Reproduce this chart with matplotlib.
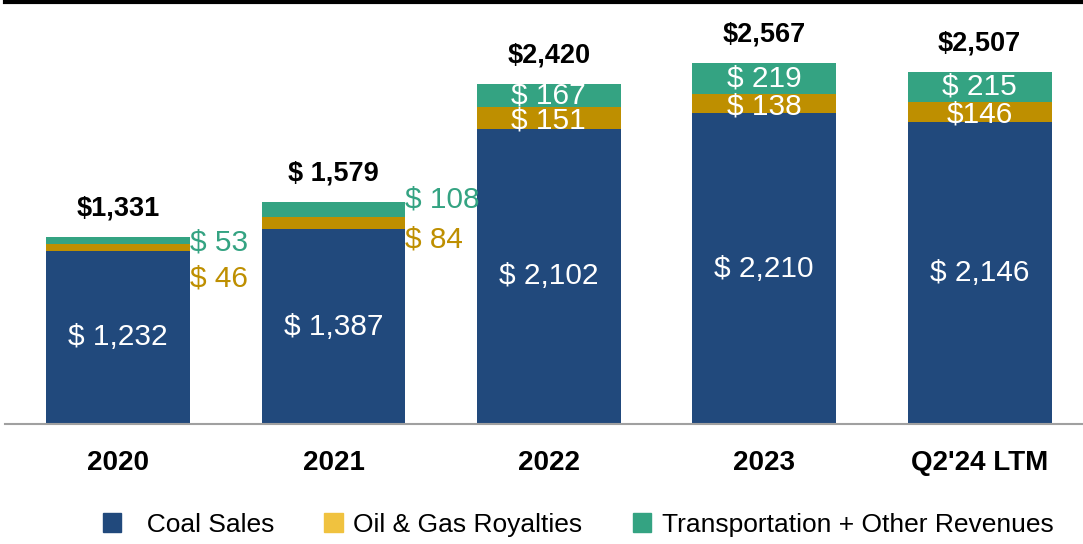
import matplotlib.pyplot as plt
from matplotlib.patches import Patch

plt.rcParams['font.family'] = ['Liberation Sans', 'DejaVu Sans']

# data (USD millions)
periods = ['2020', '2021', '2022', '2023', "Q2'24 LTM"]
coal_sales = [1232, 1387, 2102, 2210, 2146]
oil_gas = [46, 84, 151, 138, 146]
transport_other = [53, 108, 167, 219, 215]

coal_labels = ['$ 1,232', '$ 1,387', '$ 2,102', '$ 2,210', '$ 2,146']
oil_labels = ['$ 46', '$ 84', '$ 151', '$ 138', '$146']
other_labels = ['$ 53', '$ 108', '$ 167', '$ 219', '$ 215']
total_labels = ['$1,331', '$ 1,579', '$2,420', '$2,567', '$2,507']

c_coal = '#21497C'
c_oil = '#BE8F00'
c_other = '#34A382'
c_oil_legend = '#F0C23F'

fig = plt.figure(figsize=(10.83, 5.44), dpi=100)
ax = fig.add_axes([5 / 1083, 120 / 544, 1078 / 1083, 422 / 544])

x = list(range(len(periods)))
w = 0.668
bottom2 = [a + b for a, b in zip(coal_sales, oil_gas)]
totals = [a + b for a, b in zip(bottom2, transport_other)]

ax.bar(x, coal_sales, w, color=c_coal)
ax.bar(x, oil_gas, w, bottom=coal_sales, color=c_oil)
ax.bar(x, transport_other, w, bottom=bottom2, color=c_other)

ax.set_xlim(-0.525, 4.48)
ax.set_ylim(0, 3003)

lbl = 21.5
# labels inside bars
for i in x:
    ax.text(i, coal_sales[i] / 2, coal_labels[i], ha='center', va='center',
            color='white', fontsize=lbl)
    if i >= 2:
        ax.annotate(oil_labels[i], (i, coal_sales[i] + oil_gas[i] / 2),
                    xytext=(0, -2), textcoords='offset points',
                    ha='center', va='center', color='white', fontsize=lbl)
        ax.annotate(other_labels[i], (i, bottom2[i] + transport_other[i] / 2),
                    xytext=(0, 0), textcoords='offset points',
                    ha='center', va='center', color='white', fontsize=lbl)
    ax.annotate(total_labels[i], (i, totals[i]), xytext=(0, 11),
                textcoords='offset points', ha='center', va='bottom',
                fontsize=19.5, fontweight='bold', color='black')

# small segments labelled beside the bars
side_offsets = {0: (-1, -22), 1: (7, -12)}
for i, (dy_other, dy_oil) in side_offsets.items():
    ax.annotate(other_labels[i], (i + w / 2, bottom2[i] + transport_other[i] / 2),
                xytext=(0, dy_other), textcoords='offset points',
                ha='left', va='center', color=c_other, fontsize=lbl)
    ax.annotate(oil_labels[i], (i + w / 2, coal_sales[i] + oil_gas[i] / 2),
                xytext=(0, dy_oil), textcoords='offset points',
                ha='left', va='center', color=c_oil, fontsize=lbl)

ax.set_xticks(x)
ax.set_xticklabels(periods, fontsize=20, fontweight='bold')
ax.tick_params(axis='x', length=0, pad=19)
ax.set_yticks([])

for s in ['left', 'right']:
    ax.spines[s].set_visible(False)
ax.spines['top'].set_linewidth(3)
ax.spines['top'].set_color('black')
ax.spines['bottom'].set_color('#A0A0A0')
ax.spines['bottom'].set_linewidth(1.5)

handles = [Patch(color=c_coal, label='  Coal Sales'),
           Patch(color=c_oil_legend, label='Oil & Gas Royalties'),
           Patch(color=c_other, label='Transportation + Other Revenues')]
fig.legend(handles=handles, loc='center', bbox_to_anchor=(578 / 1083, 1 - 525 / 544),
           ncol=3, frameon=False, fontsize=19, handlelength=0.7, handleheight=0.75,
           handletextpad=0.4, columnspacing=1.9)

fig.savefig('out.png', dpi=100)
